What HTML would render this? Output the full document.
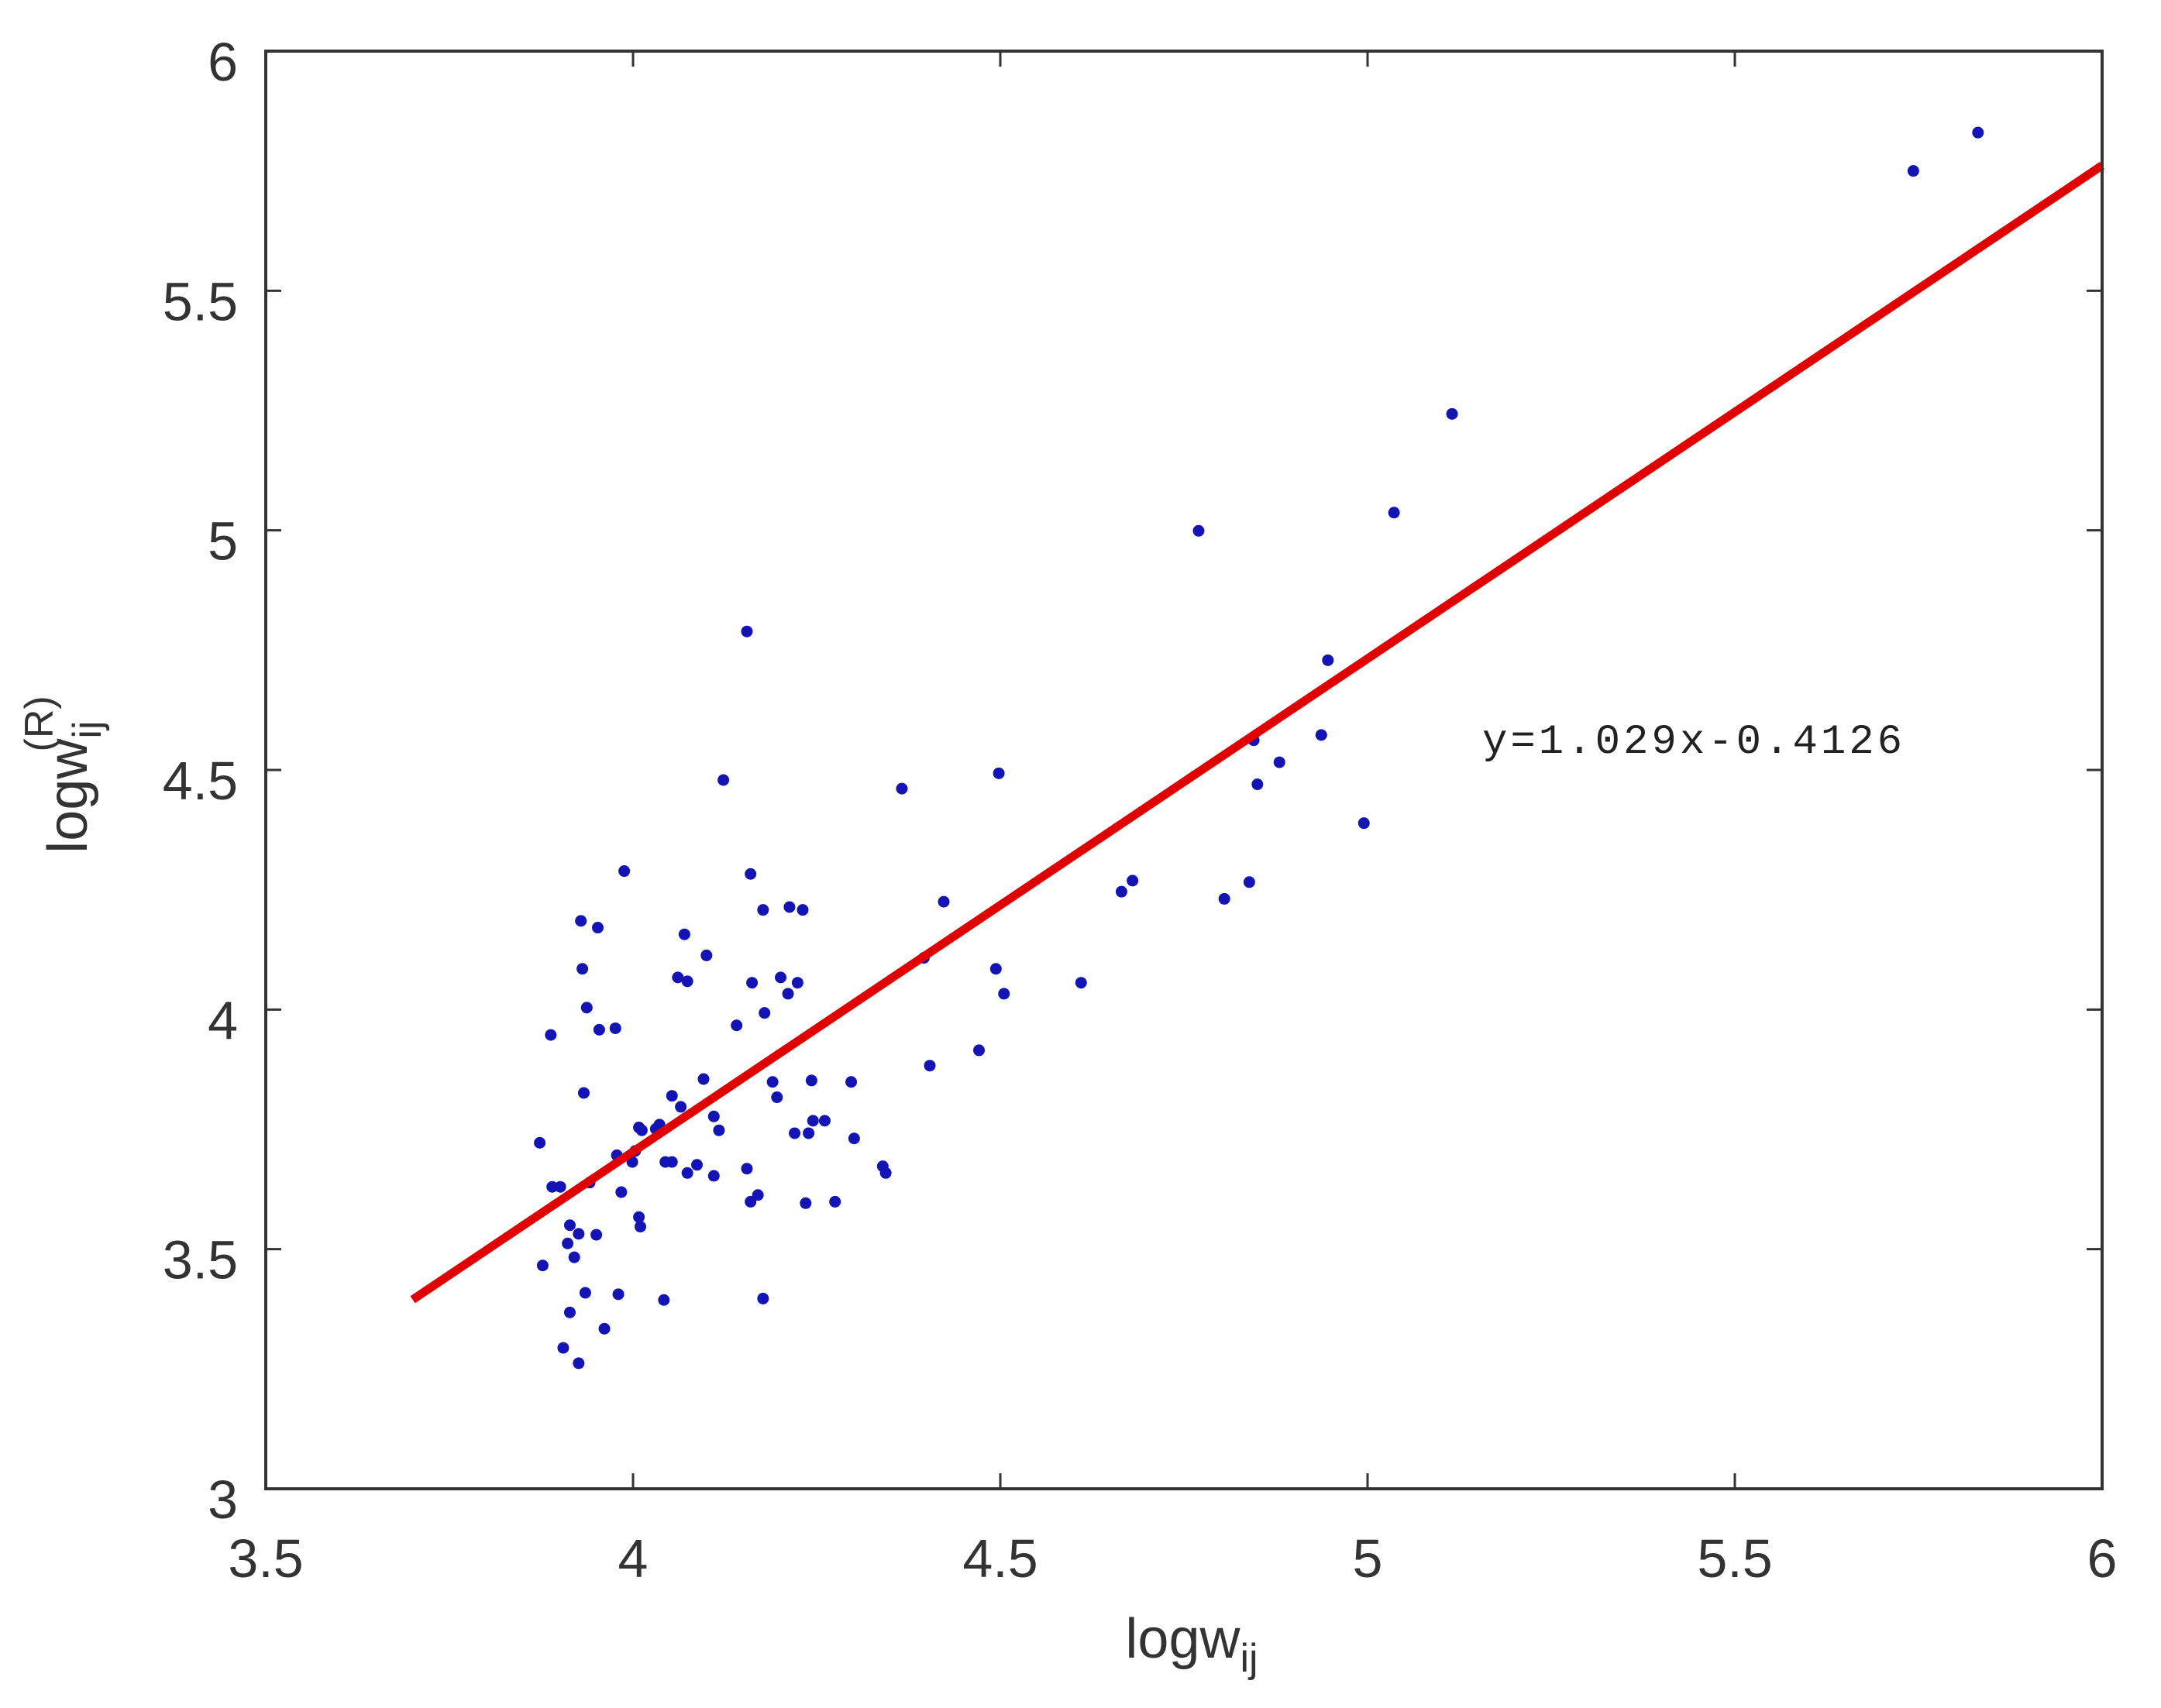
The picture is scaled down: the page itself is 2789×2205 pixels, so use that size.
<!DOCTYPE html>
<html><head><meta charset="utf-8"><style>
html,body{margin:0;padding:0;background:#fff;}
svg{display:block;}
</style></head><body>
<svg id="chart" width="2789" height="2205" viewBox="0 0 2789 2205" xmlns="http://www.w3.org/2000/svg" font-family="'Liberation Sans', sans-serif">
<rect x="0" y="0" width="2789" height="2205" fill="#fff"/>
<g id="ticks"></g>
<g id="points"></g>
<g id="fit"></g>
<rect x="343" y="66" width="2370" height="1856" fill="none" stroke="#333" stroke-width="4"/>
<text x="1913" y="972" font-family="'Liberation Mono', 'Noto Serif CJK SC', monospace" font-size="54" letter-spacing="4" fill="#222">y=1.029x-0.4126</text>
<text x="1538" y="2140" font-size="72" fill="#333" text-anchor="middle">logw<tspan font-size="52" dy="18">ij</tspan></text>
<g transform="translate(112,1000) rotate(-90)">
<text x="0" y="0" font-size="72" fill="#333" text-anchor="middle">logw<tspan font-size="52" dy="18">ij</tspan><tspan font-size="52" dx="-40" dy="-62">(R)</tspan></text>
</g>
</svg>
<script>
const xTicks = [3.5, 4, 4.5, 5, 5.5, 6];
const xTickLabels = ["3.5", "4", "4.5", "5", "5.5", "6"];
const yTicks = [3, 3.5, 4, 4.5, 5, 5.5, 6];
const yTickLabels = ["3", "3.5", "4", "4.5", "5", "5.5", "6"];
const xValues = [5.743,5.831,5.115,5.036,4.770,4.946,4.937,4.845,4.880,4.850,4.995,4.839,4.805,4.665,4.680,4.610,4.498,4.494,4.505,4.471,4.404,4.396,4.423,4.366,4.155,4.123,4.160,4.177,4.213,4.231,4.201,4.211,4.224,4.162,4.141,4.179,4.070,4.100,4.061,4.074,3.988,3.929,3.952,3.931,3.937,3.888,3.954,3.976,4.196,4.243,4.245,4.220,4.239,4.190,4.096,4.110,4.117,4.053,4.065,4.036,4.031,4.012,4.008,4.087,4.053,4.044,4.110,4.074,4.155,4.160,4.170,4.261,4.301,4.297,4.340,4.344,4.275,4.235,4.003,3.978,3.999,3.984,4.008,4.010,3.950,3.941,3.933,3.873,3.890,3.901,3.914,3.926,3.920,3.911,3.877,3.935,3.980,4.042,4.177,3.914,3.961,3.905,3.926];
const yValues = [5.750,5.830,5.243,5.037,4.999,4.729,4.573,4.562,4.516,4.470,4.389,4.266,4.231,4.246,4.269,4.056,4.493,4.085,4.033,3.915,3.883,4.108,4.225,4.461,4.789,4.479,4.283,4.208,4.214,4.208,4.067,4.033,4.056,4.056,3.967,3.993,4.157,4.113,4.067,4.059,4.289,4.185,4.171,4.085,4.004,3.947,3.958,3.961,3.817,3.852,3.768,3.742,3.742,3.849,3.855,3.777,3.748,3.820,3.797,3.760,3.751,3.748,3.754,3.676,3.682,3.682,3.653,3.659,3.668,3.599,3.613,3.768,3.731,3.849,3.673,3.659,3.599,3.596,3.705,3.696,3.682,3.619,3.567,3.547,3.530,3.639,3.826,3.722,3.630,3.630,3.550,3.532,3.483,3.512,3.466,3.409,3.406,3.394,3.397,3.368,3.334,3.294,3.262];
const fitSlope = [1.029];
const fitIntercept = [-0.4126];
const fitRange = [3.7, 6];

const L=343,R=2713,T=66,B=1922, XMIN=3.5,XMAX=6,YMIN=3,YMAX=6;
const sx=v=>L+(v-XMIN)/(XMAX-XMIN)*(R-L);
const sy=v=>B-(v-YMIN)/(YMAX-YMIN)*(B-T);
const NS="http://www.w3.org/2000/svg";
function mk(tag,attrs,parent){const e=document.createElementNS(NS,tag);for(const k in attrs)e.setAttribute(k,attrs[k]);parent.appendChild(e);return e;}
const tg=document.getElementById('ticks');
xTicks.forEach((v,i)=>{
  const x=sx(v);
  const t1=mk('line',{x1:x,y1:B,x2:x,y2:B-20,stroke:'#333','stroke-width':3},tg);
  
  
  const t2=mk('line',{x1:x,y1:T,x2:x,y2:T+20,stroke:'#333','stroke-width':3},tg);
  
  
  const lb=mk('text',{x:x,y:2036,'font-size':70,fill:'#333','text-anchor':'middle'},tg);
  lb.textContent=xTickLabels[i];
  
  
});
yTicks.forEach((v,i)=>{
  const y=sy(v);
  const t1=mk('line',{x1:L,y1:y,x2:L+20,y2:y,stroke:'#333','stroke-width':3},tg);
  
  
  const t2=mk('line',{x1:R,y1:y,x2:R-20,y2:y,stroke:'#333','stroke-width':3},tg);
  
  
  const lb=mk('text',{x:307,y:y+38,'font-size':70,fill:'#333','text-anchor':'end'},tg);
  lb.textContent=yTickLabels[i];
  
  
});
const pg=document.getElementById('points');
xValues.forEach((xv,i)=>{
  const c=mk('circle',{cx:sx(xv),cy:sy(yValues[i]),r:7.5,fill:'#1414b4'},pg);
  
  
});
const fg=document.getElementById('fit');
const ln=mk('line',{x1:sx(fitRange[0]),y1:sy(fitSlope[0]*fitRange[0]+fitIntercept[0]),x2:sx(fitRange[1]),y2:sy(fitSlope[0]*fitRange[1]+fitIntercept[0]),stroke:'#e00000','stroke-width':11},fg);


</script>
</body></html>
